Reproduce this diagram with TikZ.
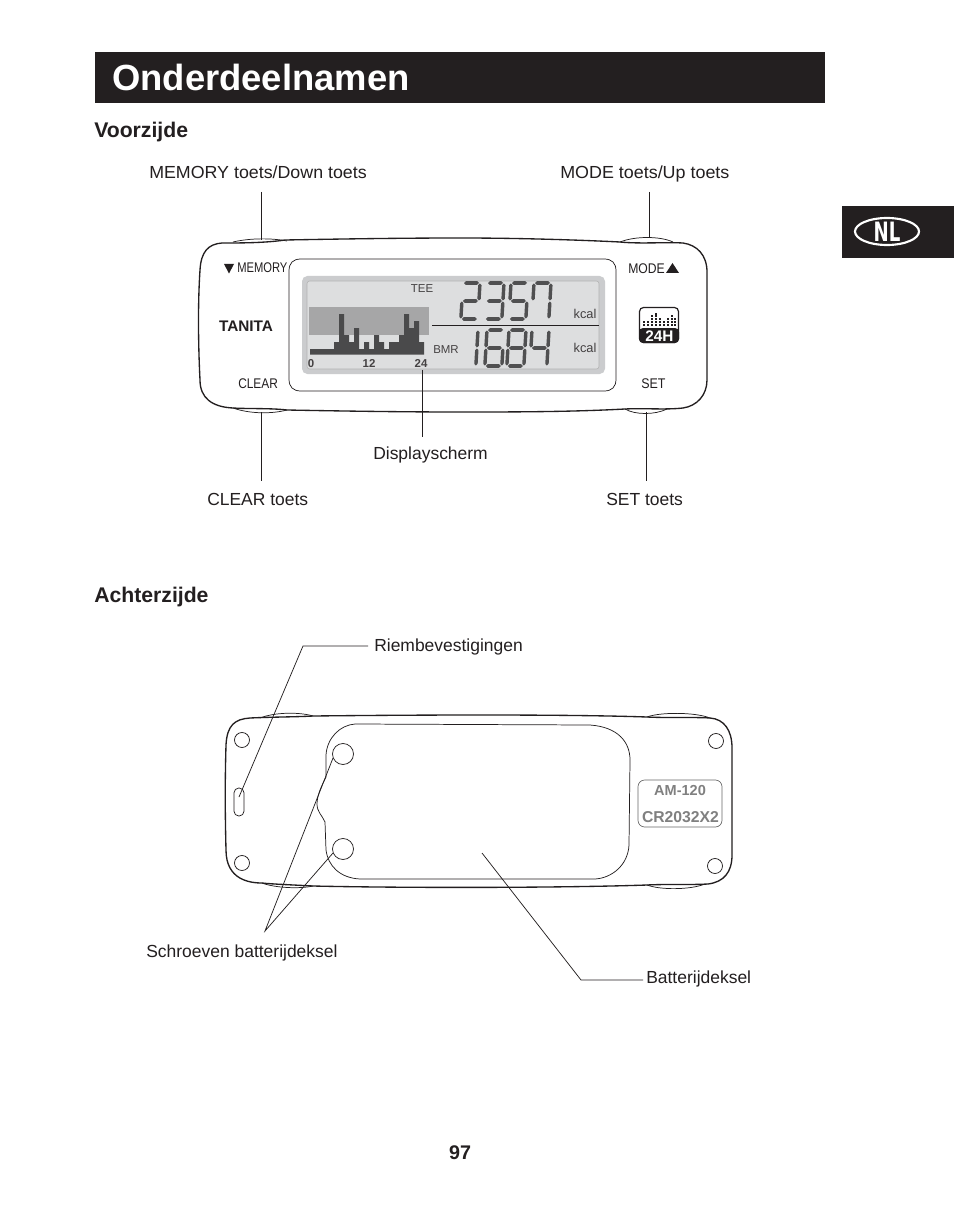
\documentclass[tikz,border=0pt]{standalone}
\usepackage{fontspec}
\setmainfont{Liberation Sans}
\newfontfamily\nlfont{DejaVu Sans}
\definecolor{ink}{HTML}{231F20}
\definecolor{lcdo}{HTML}{CBCCCE}
\definecolor{lcdi}{HTML}{DDDEDF}
\definecolor{band}{HTML}{A6A6A7}
\definecolor{bars}{HTML}{4A4A4B}
\definecolor{seggray}{HTML}{505051}
\tikzset{
  lbl/.style={inner sep=0pt,anchor=base west,font=\fontsize{13.1}{15}\selectfont,text=ink},
  head/.style={inner sep=0pt,anchor=base west,font=\fontsize{15.9}{18}\bfseries\selectfont,text=ink},
  lead/.style={draw=ink,line width=0.55pt},
  outl/.style={draw=ink,line width=1pt,line join=round},
  thin/.style={draw=ink,line width=0.55pt},
  lcdt/.style={inner sep=0pt,anchor=base,text=ink!85,font=\fontsize{8.6}{10}\selectfont},
  keyt/.style={inner sep=0pt,anchor=base west,text=ink,font=\fontsize{10.5}{12}\selectfont},
  seg/.style={fill=seggray,draw=none},
  hole/.style={thin,circle,minimum size=15*0.75pt,inner sep=0pt},
  bighole/.style={thin,circle,minimum size=21*0.75pt,inner sep=0pt},
  tag/.style={inner sep=0pt,anchor=base,text=black!50,font=\fontsize{10.9}{12}\bfseries\selectfont}
}
\newcommand\SegH[2]{\fill[seg] (#1,#2) -- ++(1.8,-1.8) -- ++(11.4,0) -- ++(1.8,1.8) -- ++(-1.8,1.8) -- ++(-11.4,0) -- cycle;}
\newcommand\SegV[2]{\fill[seg] (#1,#2) -- ++(1.7,1.7) -- ++(0,13.6) -- ++(-1.7,1.7) -- ++(-1.7,-1.7) -- ++(0,-13.6) -- cycle;}
\newcommand\Sa{\SegH{1}{0}}
\newcommand\Sg{\SegH{1}{18}}
\newcommand\Sd{\SegH{1}{36}}
\newcommand\Sf{\SegV{0}{0.5}}
\newcommand\Sb{\SegV{17}{0.5}}
\newcommand\Se{\SegV{0}{18.5}}
\newcommand\Sc{\SegV{17}{18.5}}
\newcommand\Dig[3]{\begin{scope}[shift={(#1,#2)},xslant=0.06]#3\end{scope}}
\begin{document}
\begin{tikzpicture}[x=0.75pt,y=-0.75pt]
\useasboundingbox (0,0) rectangle (954,1212);
\fill[white] (0,0) rectangle (954,1212);
% header
\fill[ink] (95,52) rectangle (825,103);
\node[inner sep=0pt,anchor=base west,text=white,font=\fontsize{27.3}{30}\bfseries\selectfont] (title) at (112,91) {Onderdeelnamen};
% tab
\fill[ink] (842,206) rectangle (954,258);
\draw[white,line width=1.6pt] (887,231.5) ellipse [x radius=32,y radius=13.5];
\node[inner sep=0pt,text=white,font=\nlfont\fontsize{20}{22}\bfseries\selectfont] (nl) at (887,232) {\scalebox{0.68}[1]{NL}};
\node[head] (front) at (94,138) {Voorzijde};
\node[head] (back) at (94,602) {Achterzijde};
\node[inner sep=0pt,anchor=base,text=ink,font=\fontsize{14.8}{16}\bfseries\selectfont] (page) at (460,1159) {97};
% labels
\node[lbl] (lmem) at (149,178.7) {\scalebox{1.02}[1]{MEMORY toets/Down toets}};
\node[lbl] (lmode) at (560,178.7) {\scalebox{1.025}[1]{MODE toets/Up toets}};
\node[lbl] (ldisp) at (373,459) {Displayscherm};
\node[lbl] (lclear) at (207,505) {CLEAR toets};
\node[lbl] (lset) at (606,505) {SET toets};
\node[lbl] (lriem) at (374,651) {Riembevestigingen};
\node[lbl] (lschr) at (146,957) {Schroeven batterijdeksel};
\node[lbl] (lbat) at (646,983) {Batterijdeksel};
% front body
\draw[outl] (285,240) .. controls (340,239) and (400,238) .. (460,238)
  .. controls (520,238) and (580,240) .. (620,242)
  .. controls (640,244) and (665,242) .. (683,243)
  .. controls (697,245) and (707,255) .. (707,272)
  -- (707,380) .. controls (707,395) and (697,406) .. (683,408)
  .. controls (665,410) and (645,408) .. (625,409)
  .. controls (570,412) and (510,412) .. (460,412)
  .. controls (400,412) and (340,411) .. (287,410)
  .. controls (270,408) and (250,409) .. (233,408)
  .. controls (212,407) and (200,398) .. (200,380)
  .. controls (198,340) and (198,300) .. (200,270)
  .. controls (201,252) and (208,244) .. (222,243)
  .. controls (240,243) and (265,243) .. (285,240);
\draw[thin] (233,242) .. controls (250,238) and (272,238) .. (287,241);
\draw[thin] (620,242) .. controls (635,236) and (660,236) .. (673,242);
\draw[thin] (233,408) .. controls (250,414) and (272,414) .. (287,410);
\draw[thin] (625,409) .. controls (635,415) and (655,415) .. (667,409);
% panel
\draw[thin] (301,259) -- (604,259) .. controls (612,259) and (616,263) .. (616,271)
  -- (616,379) .. controls (616,387) and (612,391) .. (604,391)
  -- (301,391) .. controls (293,391) and (289,387) .. (289,379)
  -- (289,271) .. controls (289,263) and (293,259) .. (301,259) -- cycle;
\fill[lcdo,rounded corners=4pt] (302,276) rectangle (605,374);
\draw[draw=black!30,fill=lcdi,rounded corners=2pt,line width=0.4pt] (307,281) rectangle (599,369);
\fill[band] (309,307) rectangle (429,335);
% bars
\fill[bars] (310,354.5) -- (310,349) -- (334,349) -- (334,342) -- (339,342) -- (339,314) -- (344,314) -- (344,335) -- (349,335) -- (349,342) -- (354,342) -- (354,328) -- (359,328) -- (359,349) -- (364,349) -- (364,342) -- (369,342) -- (369,349) -- (374,349) -- (374,335) -- (379,335) -- (379,342) -- (384,342) -- (384,349) -- (389,349) -- (389,342) -- (399,342) -- (399,335) -- (404,335) -- (404,314) -- (409,314) -- (409,328) -- (414,328) -- (414,321) -- (419,321) -- (419,342) -- (424,342) -- (424,354.5) -- cycle;
\draw[ink,line width=0.55pt] (432,325) -- (599,325);
\node[lcdt] (tee) at (422,292) {TEE};
\node[lcdt] (bmr) at (446,353) {BMR};
\node[lcdt,font=\fontsize{8.6}{10}\bfseries\selectfont] (z0) at (311,367) {0};
\node[lcdt,font=\fontsize{8.6}{10}\bfseries\selectfont] (z12) at (369,367) {12};
\node[lcdt,font=\fontsize{8.6}{10}\bfseries\selectfont] (z24) at (421,367) {24};
\node[lcdt,font=\fontsize{9.6}{11}\selectfont] (k1) at (585,319) {kcal};
\node[lcdt,font=\fontsize{9.6}{11}\selectfont] (k2) at (585,352) {kcal};
% digits
\Dig{463}{283}{\Sa\Sb\Sg\Se\Sd}
\Dig{487}{283}{\Sa\Sb\Sg\Sc\Sd}
\Dig{511}{283}{\Sa\Sf\Sg\Sc\Sd}
\Dig{534}{283}{\Sa\Sf\Sb\Sc}
\Dig{461}{330}{\Sb\Sc}
\Dig{487}{330}{\Sa\Sf\Sg\Se\Sc\Sd}
\Dig{509}{330}{\Sa\Sb\Sc\Sd\Se\Sf\Sg}
\Dig{532}{330}{\Sf\Sb\Sg\Sc}
% key text
\fill[ink] (224,264) -- (234,264) -- (229,273.5) -- cycle;
\node[keyt] (tmem) at (237,273) {\scalebox{0.8}[1]{MEMORY}};
\node[keyt] (tmode) at (628,273.5) {\scalebox{0.87}[1]{MODE}};
\fill[ink] (666,273) -- (679,273) -- (672.5,263) -- cycle;
\node[keyt] (tclear) at (238,388) {\scalebox{0.85}[1]{CLEAR}};
\node[keyt] (tset) at (641,388) {\scalebox{0.89}[1]{SET}};
\node[inner sep=0pt,anchor=base,text=ink,font=\fontsize{11.5}{12}\bfseries\selectfont] (brand) at (246,331) {TANITA};
% 24H icon
\draw[ink,fill=white,line width=0.9pt,rounded corners=3pt] (639.5,307.5) rectangle (678.5,342.5);
\fill[ink,rounded corners=3pt] (639,328) rectangle (679,343);
\foreach \x/\t in {644/2,648/2,652/4,656/5,660/3,664/2,668/3,672/4,675/3}{
  \foreach \k in {1,...,\t}{\fill[ink] (\x-1.2,326.5-\k*2.8) rectangle (\x+1.2,326.5-\k*2.8+2.1);}
}
\node[inner sep=0pt,anchor=base,text=white,font=\fontsize{11.5}{13}\bfseries\selectfont] (h24) at (659.5,341) {24H};
% front leaders
\coordinate (a1) at (261,192); \coordinate (a2) at (261,240);
\coordinate (b1) at (649,192); \coordinate (b2) at (649,238);
\coordinate (c1) at (261,412); \coordinate (c2) at (261,481);
\coordinate (d1) at (646,412); \coordinate (d2) at (646,481);
\coordinate (e1) at (422.5,370); \coordinate (e2) at (422.5,437);
\draw[lead] (a1)--(a2); \draw[lead] (b1)--(b2); \draw[lead] (c1)--(c2); \draw[lead] (d1)--(d2); \draw[lead] (e1)--(e2);
% back body
\draw[outl] (313,716) .. controls (400,715) and (560,714) .. (647,717)
  .. controls (665,718) and (695,717) .. (710,718)
  .. controls (724,719) and (732,730) .. (732,748)
  -- (732,855) .. controls (732,872) and (724,882) .. (708,884)
  .. controls (690,885) and (665,884) .. (647,885)
  .. controls (560,888) and (400,888) .. (313,886)
  .. controls (295,885) and (270,884) .. (262,883)
  .. controls (250,883) and (226,880) .. (226,850)
  .. controls (225,810) and (225,780) .. (226,745)
  .. controls (227,725) and (235,719) .. (250,718)
  .. controls (270,717) and (295,717) .. (313,716);
\draw[thin] (260,718) .. controls (275,712) and (300,712) .. (313,716);
\draw[thin] (647,717) .. controls (660,712) and (695,712) .. (710,718);
\draw[thin] (262,883) .. controls (275,888) and (300,889) .. (313,886);
\draw[thin] (647,885) .. controls (660,890) and (690,890) .. (705,884);
% cover
\draw[thin] (355,724) -- (590,725) .. controls (618,727) and (630,742) .. (630,760)
  -- (629,845) .. controls (628,865) and (612,878) .. (595,879)
  -- (360,879) .. controls (340,878) and (328,866) .. (326,850)
  -- (325,822) .. controls (322,815) and (317,812) .. (317,804)
  .. controls (317,795) and (322,785) .. (326,777)
  -- (326,755) .. controls (327,738) and (340,725) .. (355,724) -- cycle;
\node[hole] (h1) at (242,740) {};
\node[hole] (h2) at (242,863) {};
\node[hole] (h3) at (716,741) {};
\node[hole] (h4) at (715,866) {};
\node[bighole] (s1) at (343,754) {};
\node[bighole] (s2) at (343,849) {};
\draw[thin,rounded corners=3.6pt] (234,788) rectangle (244,816);
\draw[draw=black!60,line width=0.5pt,rounded corners=5pt] (638,780) rectangle (722,827);
\node[tag] (t1) at (680,795.5) {AM-120};
\node[tag,font=\fontsize{11.8}{13}\bfseries\selectfont] (t2) at (680.5,822.5) {CR2032X2};
% back leaders
\coordinate (r1) at (368,646); \coordinate (r2) at (303,646); \coordinate (r3) at (239,797);
\coordinate (q0) at (265,931); \coordinate (q1) at (333,758); \coordinate (q2) at (333,853);
\coordinate (p1) at (643,980); \coordinate (p2) at (581,980); \coordinate (p3) at (482,853);
\draw[lead] (r1)--(r2)--(r3);
\draw[lead] (q1)--(q0)--(q2);
\draw[lead] (p1)--(p2)--(p3);
\end{tikzpicture}
\end{document}
